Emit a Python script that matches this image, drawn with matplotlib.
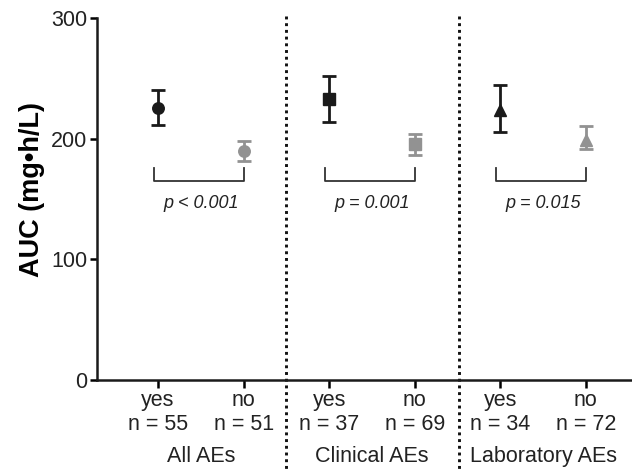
import matplotlib
matplotlib.use("Agg")
import matplotlib.pyplot as plt
import matplotlib.transforms as mtransforms

plt.rcParams["font.family"] = ["Liberation Sans", "DejaVu Sans"]

# AUC by adverse-event status (mean with 95% CI)
groups = ["All AEs", "Clinical AEs", "Laboratory AEs"]
status = ["yes", "no"]
n_counts = [[55, 51], [37, 69], [34, 72]]
auc_mean = [[225.7, 190.0], [232.6, 195.6], [223.8, 198.9]]
auc_low = [[211.3, 181.7], [213.8, 186.7], [205.3, 191.2]]
auc_high = [[240.3, 198.1], [251.9, 203.9], [244.2, 210.5]]
p_values = ["p < 0.001", "p = 0.001", "p = 0.015"]

markers = ["o", "s", "^"]
colors = ["#1a1a1a", "#929292"]
xpos = [[0, 1], [2, 3], [4, 5]]
dividers = [1.5, 3.52]

fig = plt.figure(figsize=(6.32, 4.7), dpi=100)
ax = fig.add_axes([0.1535, 0.1915, 0.8465, 0.7702])

for g in range(len(groups)):
    for s in range(2):
        x = xpos[g][s]
        m = auc_mean[g][s]
        err = [[m - auc_low[g][s]], [auc_high[g][s] - m]]
        ax.errorbar([x], [m], yerr=err, fmt=markers[g], color=colors[s],
                    markersize=8.3, elinewidth=2, capsize=5, capthick=2,
                    clip_on=False)

    # significance bracket under each pair
    x0, x1 = xpos[g]
    ax.plot([x0 - 0.05, x0 - 0.05, x1, x1], [176, 165, 165, 176],
            color="#333333", lw=1.3)
    ax.text((x0 + x1) / 2, 146, p_values[g], ha="center", va="center",
            fontsize=13, style="italic", color="#222222")

ticks = [x for pair in xpos for x in pair]
labels = [f"{status[s]}\nn = {n_counts[g][s]}" for g in range(3) for s in range(2)]
ax.set_xticks(ticks)
ax.set_xticklabels(labels, fontsize=15.5, color="#222222")
ax.set_xlim(-0.713, 5.54)

ax.set_ylim(0, 300)
ax.set_yticks([0, 100, 200, 300])
ax.tick_params(axis="y", labelsize=15.5, labelcolor="#222222", length=5,
               width=1.8, pad=2)
ax.tick_params(axis="x", length=6, width=1.8, pad=1)
ax.set_ylabel("AUC (mg•h/L)", fontsize=19.5, fontweight="bold", labelpad=6)
ax.yaxis.set_label_coords(-0.098, 0.525)

for side in ["top", "right"]:
    ax.spines[side].set_visible(False)
for side in ["left", "bottom"]:
    ax.spines[side].set_linewidth(1.8)
    ax.spines[side].set_color("#1a1a1a")

trans = mtransforms.blended_transform_factory(ax.transData, ax.transAxes)
for d in dividers:
    ax.plot([d, d], [1.006, -0.26], transform=trans, color="#111111",
            ls=(0, (1, 1.3)), lw=2.1, clip_on=False)

for g in range(len(groups)):
    ax.text(sum(xpos[g]) / 2, -0.212, groups[g], transform=trans,
            ha="center", va="center", fontsize=15.5, color="#222222")

fig.savefig("out.png", dpi=100)
